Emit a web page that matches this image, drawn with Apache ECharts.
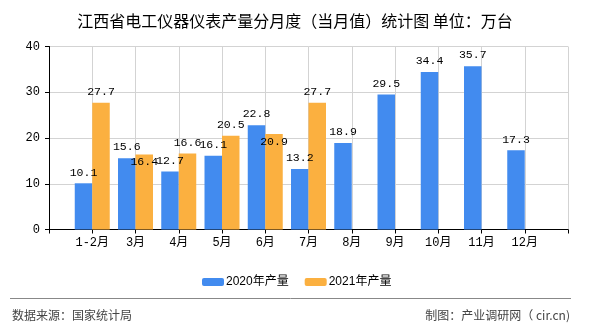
<!DOCTYPE html>
<html>
<head>
<meta charset="utf-8">
<script src="https://cdn.jsdelivr.net/npm/echarts@6/dist/echarts.min.js"></script>
<style>html,body{margin:0;padding:0;background:#fff;}#c{width:590px;height:330px;}</style>
</head>
<body>
<div id="c"></div>
<script>
var categories = ['1-2月','3月','4月','5月','6月','7月','8月','9月','10月','11月','12月'];
var values2020 = [10.1, 15.6, 12.7, 16.1, 22.8, 13.2, 18.9, 29.5, 34.4, 35.7, 17.3];
var values2021 = [27.7, 16.4, 16.6, 20.5, 20.9, 27.7, null, null, null, null, null];
var seriesNames = ['2020年产量', '2021年产量'];
var yTicks = [0, 10, 20, 30, 40];

var chart = echarts.init(document.getElementById('c'), null, {renderer: 'canvas'});
var axisCats = [''].concat(categories).concat(['']);
function pad(arr) { return [null].concat(arr).concat([null]); }
var monoFont = '"Liberation Mono", "DejaVu Sans Mono", "Noto Sans CJK SC", monospace';
var cjkFont = '"Noto Sans CJK SC", "Liberation Sans", sans-serif';
// labels moved inside bar to avoid overlap (index within categories)
var insideLabels2021 = {1: true, 4: true};

var labelBase = {show: true, position: 'top', distance: 5, color: '#000', fontFamily: monoFont, fontSize: 11.5};
var d2021 = pad(values2021).map(function (v, i) {
  if (v != null && insideLabels2021[i - 1]) {
    return {value: v, label: {position: 'insideTop', distance: 2}};
  }
  return v;
});

chart.setOption({
  animation: false,
  backgroundColor: '#fff',
  title: {
    text: '江西省电工仪器仪表产量分月度（当月值）统计图 单位：万台',
    left: 'center', top: 8,
    textStyle: {fontFamily: cjkFont, fontSize: 16, fontWeight: 'normal', color: '#000'}
  },
  legend: {
    data: seriesNames,
    left: 197, top: 271,
    itemWidth: 22, itemHeight: 8, itemGap: 16,
    textStyle: {fontFamily: '"Liberation Sans", "Noto Sans CJK SC", sans-serif', fontSize: 12, color: '#000', padding: [0, 0, 0, -3]}
  },
  grid: {left: 49, right: 22, top: 46.5, bottom: 100.5, containLabel: false},
  xAxis: {
    type: 'category', data: axisCats, boundaryGap: false,
    axisLine: {lineStyle: {color: '#000', width: 1}},
    axisTick: {show: true, length: 4, lineStyle: {color: '#000'}},
    axisLabel: {interval: 0, margin: 7, color: '#000', fontFamily: monoFont, fontSize: 12},
    splitLine: {show: true, lineStyle: {color: '#d3d3d3', width: 1}}
  },
  yAxis: {
    type: 'value', min: yTicks[0], max: yTicks[yTicks.length - 1], interval: yTicks[1] - yTicks[0],
    axisLine: {show: true, lineStyle: {color: '#000', width: 1}},
    axisTick: {show: true, length: 4, lineStyle: {color: '#000'}},
    axisLabel: {margin: 9, color: '#000', fontFamily: monoFont, fontSize: 12},
    splitLine: {show: true, lineStyle: {color: '#d3d3d3', width: 1}}
  },
  series: [
    {name: seriesNames[0], type: 'bar', data: pad(values2020), barWidth: 17.5, barGap: '0%',
     itemStyle: {color: '#428bef'}, label: labelBase},
    {name: seriesNames[1], type: 'bar', data: d2021, barWidth: 17.5, barGap: '0%',
     itemStyle: {color: '#fbb040'}, label: labelBase}
  ],
  graphic: [
    {type: 'line', shape: {x1: 10, y1: 298.5, x2: 571, y2: 298.5}, style: {stroke: '#888', lineWidth: 1}},
    {type: 'text', left: 12, top: 309, style: {text: '数据来源：国家统计局', fill: '#444', font: '12px ' + cjkFont}},
    {type: 'text', right: 20, top: 309, style: {text: '制图：产业调研网（ cir.cn)', fill: '#444', font: '12px ' + cjkFont}}
  ]
});
</script>
</body>
</html>
